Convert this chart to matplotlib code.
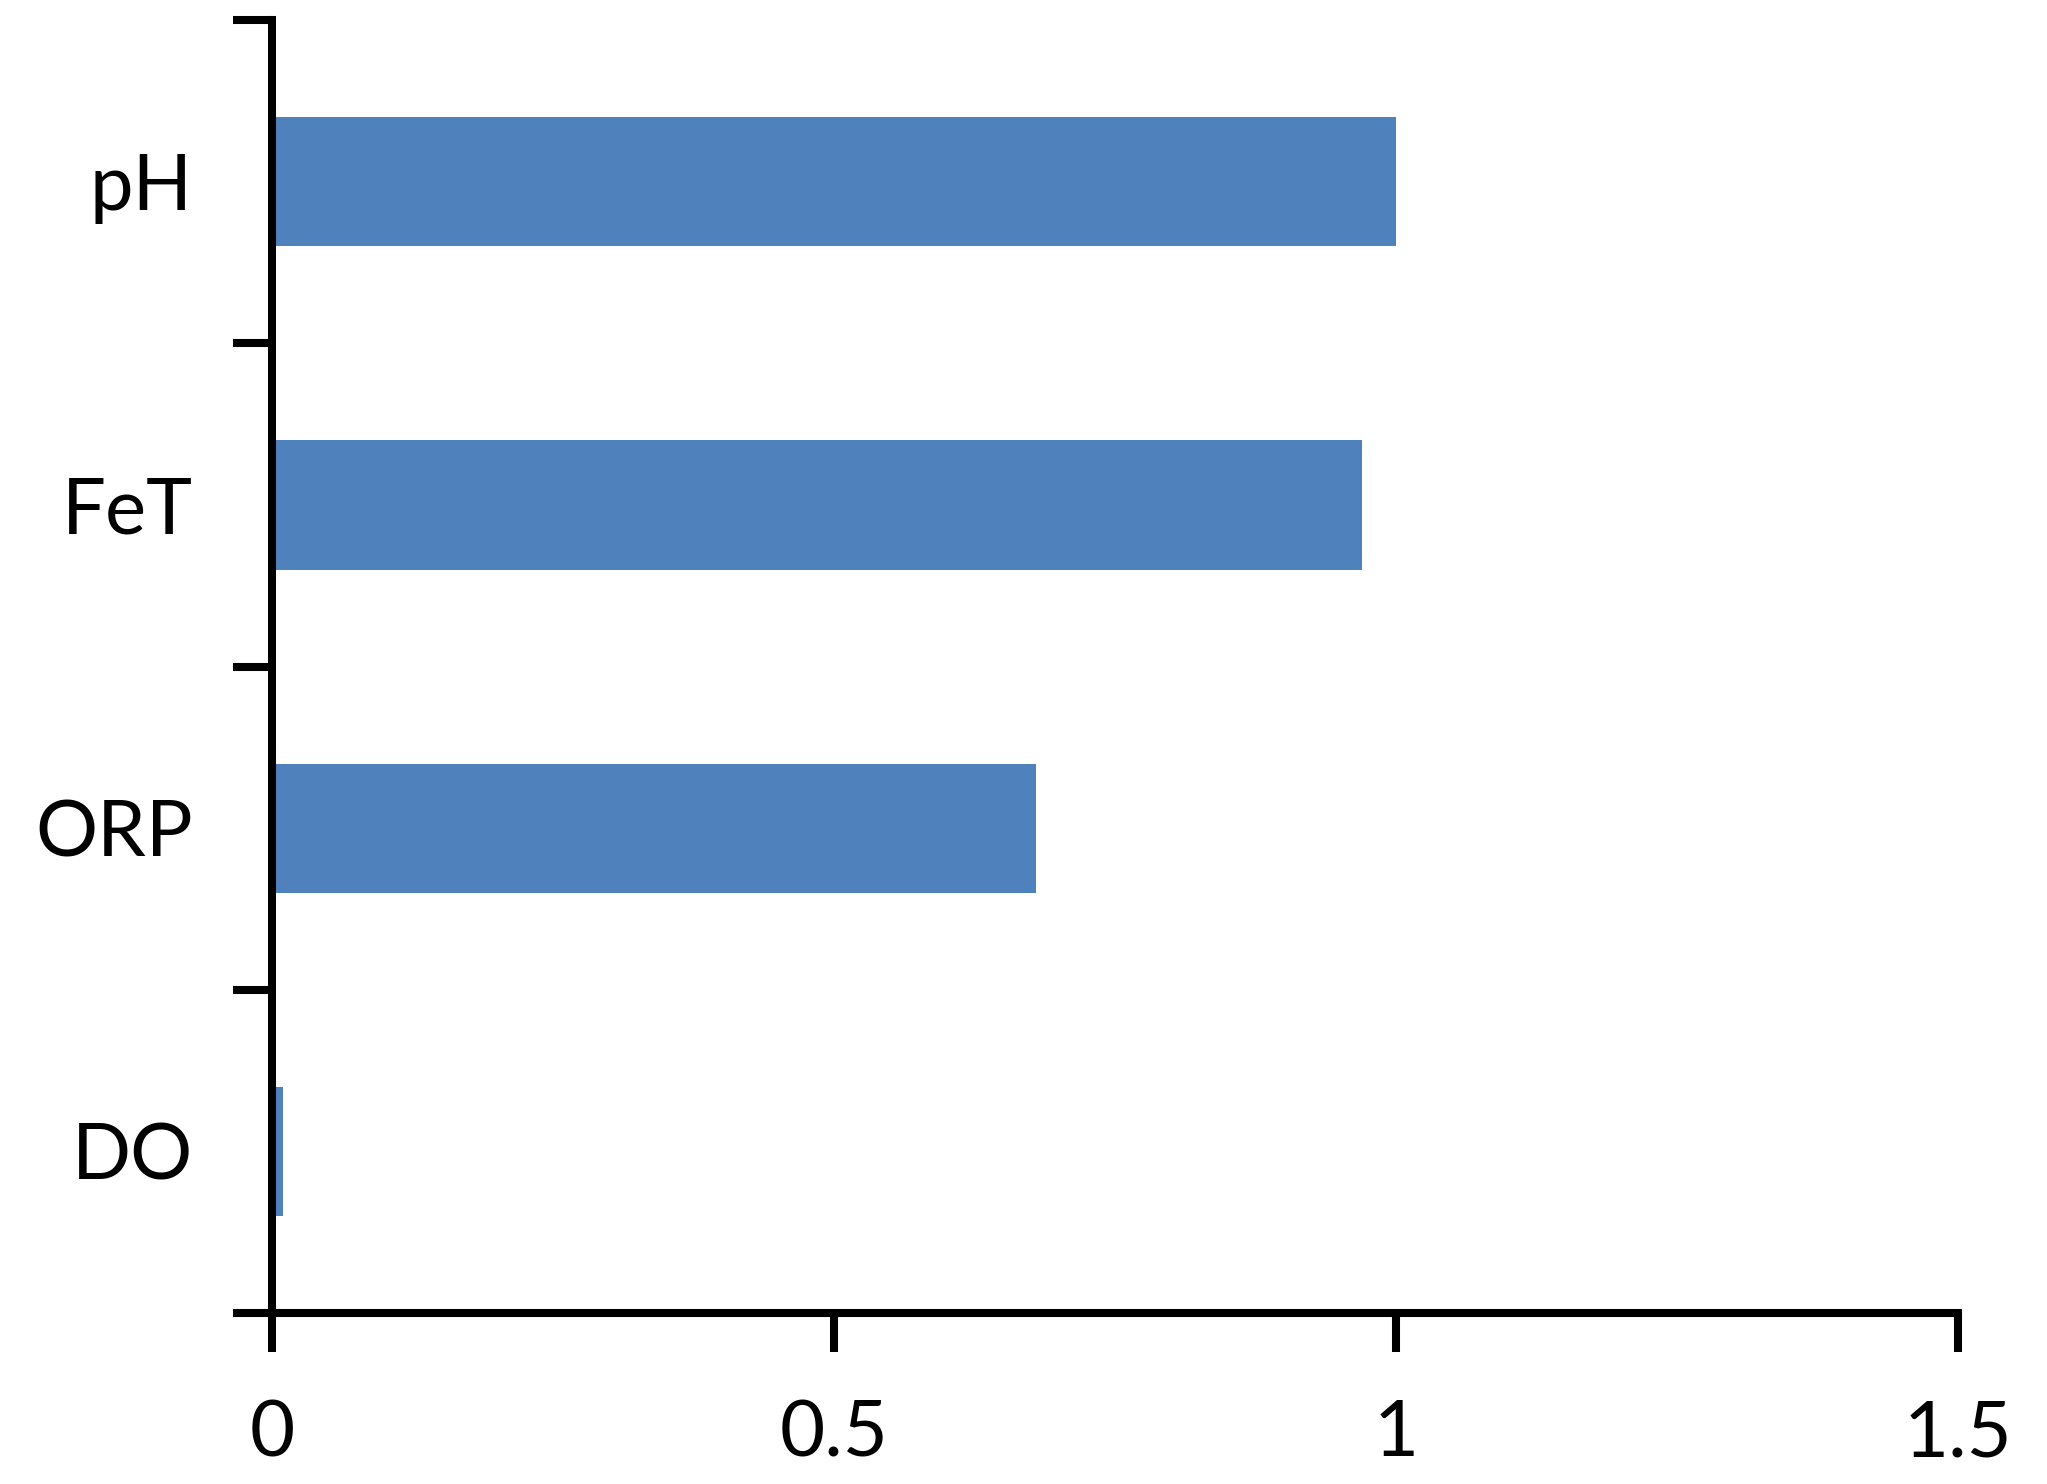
import matplotlib
matplotlib.use("Agg")
from matplotlib import pyplot as plt

# categories from bottom to top
labels = ["DO", "ORP", "FeT", "pH"]
values = [0.01, 0.68, 0.97, 1.0]
x_ticks = [0, 0.5, 1, 1.5]
x_tick_labels = ["0", "0.5", "1", "1.5"]

plt.rcParams['font.family'] = ['Lato', 'DejaVu Sans']

fig = plt.figure(figsize=(20.47, 14.84), dpi=100)
ax = fig.add_axes([0.1329, 0.1152, 0.8236, 0.8713])

ax.barh(range(len(labels)), values, height=0.4, color="#4F81BD")

ax.set_xlim(0, 1.5)
ax.set_ylim(-0.5, len(labels) - 0.5)
ax.set_xticks(x_ticks)
ax.set_xticklabels(x_tick_labels)

# category ticks sit between the bars, labels at bar centres
ax.set_yticks([i - 0.5 for i in range(len(labels) + 1)])
ax.set_yticklabels([])
ax.set_yticks(range(len(labels)), minor=True)
ax.set_yticklabels(labels, minor=True)
ax.tick_params(axis="y", which="minor", length=0, pad=57, labelsize=56)
ax.tick_params(axis="y", which="major", length=28, width=5.8, direction="out")
ax.tick_params(axis="x", length=28, width=5.8, direction="out", pad=34, labelsize=56)

for side in ["top", "right"]:
    ax.spines[side].set_visible(False)
for side in ["left", "bottom"]:
    ax.spines[side].set_linewidth(5.8)

fig.savefig("out.png", dpi=100)
